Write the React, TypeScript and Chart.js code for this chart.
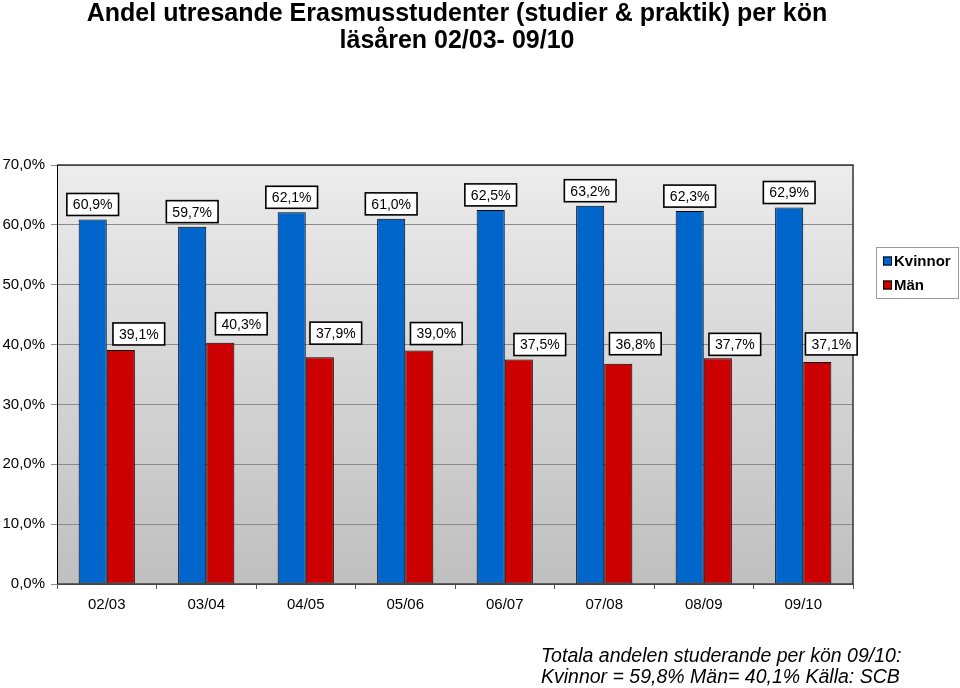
import React, { useEffect, useRef } from "react";
import { Chart, registerables } from "chart.js";

Chart.register(...registerables);

const categories = ["02/03", "03/04", "04/05", "05/06", "06/07", "07/08", "08/09", "09/10"];
const kvinnor = [60.9, 59.7, 62.1, 61.0, 62.5, 63.2, 62.3, 62.9];
const man = [39.1, 40.3, 37.9, 39.0, 37.5, 36.8, 37.7, 37.1];
const seriesNames = ["Kvinnor", "Män"];
const yTicks = [0, 10, 20, 30, 40, 50, 60, 70];
const titleLines = ["Andel utresande Erasmusstudenter (studier & praktik) per kön", "läsåren 02/03- 09/10"];
const footerLines = ["Totala andelen studerande per kön 09/10:", "Kvinnor = 59,8% Män= 40,1% Källa: SCB"];

// label offsets (pixels) relative to bar centre / bar top, for the "Män" labels
const manLabelDx = [18, 21, 16, 17, 21, 17, 17, 14];
const manLabelDy = [-16, -19, -24, -17, -15, -20, -14, -18];

const BLUE = "#0066cc";
const RED = "#cc0000";
const FONT = "'Liberation Sans', Arial, sans-serif";

const fmt = (v: number) => v.toFixed(1).replace(".", ",") + "%";

export default function App() {
  const ref = useRef<HTMLCanvasElement | null>(null);

  useEffect(() => {
    document.body.style.margin = "0";
    const canvas = ref.current!;
    const decor = {
      id: "decor",
      beforeDraw(chart: any) {
        const { ctx, chartArea: a } = chart;
        ctx.save();
        ctx.fillStyle = "#ffffff";
        ctx.fillRect(0, 0, chart.width, chart.height);
        const g = ctx.createLinearGradient(0, a.top, 0, a.bottom);
        g.addColorStop(0, "#ececec");
        g.addColorStop(1, "#bfbfbf");
        ctx.fillStyle = g;
        ctx.fillRect(a.left, a.top, a.right - a.left, a.bottom - a.top);
        ctx.restore();
      },
      afterDraw(chart: any) {
        const { ctx, chartArea: a } = chart;
        ctx.save();
        // plot border (top/right)
        ctx.strokeStyle = "#333333";
        ctx.lineWidth = 1.5;
        ctx.beginPath();
        ctx.moveTo(a.left, a.top);
        ctx.lineTo(a.right, a.top);
        ctx.lineTo(a.right, a.bottom);
        ctx.stroke();
        ctx.strokeStyle = "#000";
        ctx.lineWidth = 1;
        ctx.beginPath();
        ctx.moveTo(a.left + 0.5, a.top);
        ctx.lineTo(a.left + 0.5, a.bottom);
        ctx.lineTo(a.right, a.bottom);
        ctx.stroke();

        // data labels
        ctx.font = `14px ${FONT}`;
        ctx.textAlign = "center";
        ctx.textBaseline = "middle";
        const drawBox = (cx: number, cy: number, text: string) => {
          const w = ctx.measureText(text).width + 12;
          const h = 22;
          ctx.fillStyle = "#fff";
          ctx.fillRect(cx - w / 2, cy - h / 2, w, h);
          ctx.strokeStyle = "#000";
          ctx.lineWidth = 1.6;
          ctx.strokeRect(cx - w / 2, cy - h / 2, w, h);
          ctx.fillStyle = "#000";
          ctx.fillText(text, cx, cy + 1);
        };
        const m0 = chart.getDatasetMeta(0);
        const m1 = chart.getDatasetMeta(1);
        m0.data.forEach((bar: any, i: number) => {
          drawBox(bar.x, bar.y - 15, fmt(kvinnor[i]));
        });
        m1.data.forEach((bar: any, i: number) => {
          drawBox(bar.x + manLabelDx[i], bar.y + manLabelDy[i], fmt(man[i]));
        });

        // title
        ctx.fillStyle = "#000";
        ctx.font = `bold 25px ${FONT}`;
        ctx.textAlign = "center";
        ctx.fillText(titleLines[0], 457, 14);
        ctx.fillText(titleLines[1], 457, 41);

        // footer
        ctx.font = `italic 19.5px ${FONT}`;
        ctx.textAlign = "left";
        ctx.fillText(footerLines[0], 541, 657);
        ctx.fillText(footerLines[1], 541, 678);

        // legend
        const lx = 876, ly = 247, lw = 83, lh = 52;
        ctx.fillStyle = "#fff";
        ctx.fillRect(lx, ly, lw, lh);
        ctx.strokeStyle = "#999";
        ctx.lineWidth = 1;
        ctx.strokeRect(lx + 0.5, ly + 0.5, lw - 1, lh - 1);
        const colors = [BLUE, RED];
        ctx.font = `bold 15px ${FONT}`;
        seriesNames.forEach((n, i) => {
          const cy = ly + 14 + i * 24;
          ctx.fillStyle = colors[i];
          ctx.fillRect(883, cy - 4.5, 9, 9);
          ctx.strokeStyle = "#000";
          ctx.lineWidth = 1;
          ctx.strokeRect(883.5, cy - 4, 8, 8);
          ctx.fillStyle = "#000";
          ctx.fillText(n, 894, cy + 1);
        });
        ctx.restore();
      },
    };

    const chart = new Chart(canvas, {
      type: "bar",
      data: {
        labels: categories,
        datasets: [
          { label: seriesNames[0], data: kvinnor, backgroundColor: BLUE, borderColor: "#000", borderWidth: 1, borderSkipped: false },
          { label: seriesNames[1], data: man, backgroundColor: RED, borderColor: "#000", borderWidth: 1, borderSkipped: false },
        ],
      },
      options: {
        animation: false,
        responsive: false,
        maintainAspectRatio: false,
        layout: { padding: { left: 0, top: 165, right: 107, bottom: 0 } },
        datasets: { bar: { categoryPercentage: 0.565, barPercentage: 1 } },
        plugins: { legend: { display: false }, title: { display: false }, tooltip: { enabled: false } },
        scales: {
          x: {
            grid: { display: true, offset: true, drawOnChartArea: false, tickLength: 5, color: "#555" },
            border: { display: false },
            ticks: { color: "#000", font: { family: FONT, size: 15 }, padding: 7 },
            afterFit(scale: any) {
              scale.height = 104;
            },
          },
          y: {
            min: 0,
            max: 70,
            afterBuildTicks(scale: any) {
              scale.ticks = yTicks.map((v) => ({ value: v }));
            },
            grid: { color: "#8a8a8a", tickLength: 6 },
            border: { display: false },
            ticks: {
              color: "#000",
              font: { family: FONT, size: 15 },
              padding: 6,
              callback: (v: any) => fmt(Number(v)),
            },
            afterFit(scale: any) {
              scale.width = 57;
            },
          },
        },
      },
      plugins: [decor],
    } as any);
    return () => chart.destroy();
  }, []);

  return <canvas ref={ref} width={960} height={688} style={{ display: "block", width: 960, height: 688 }} />;
}
